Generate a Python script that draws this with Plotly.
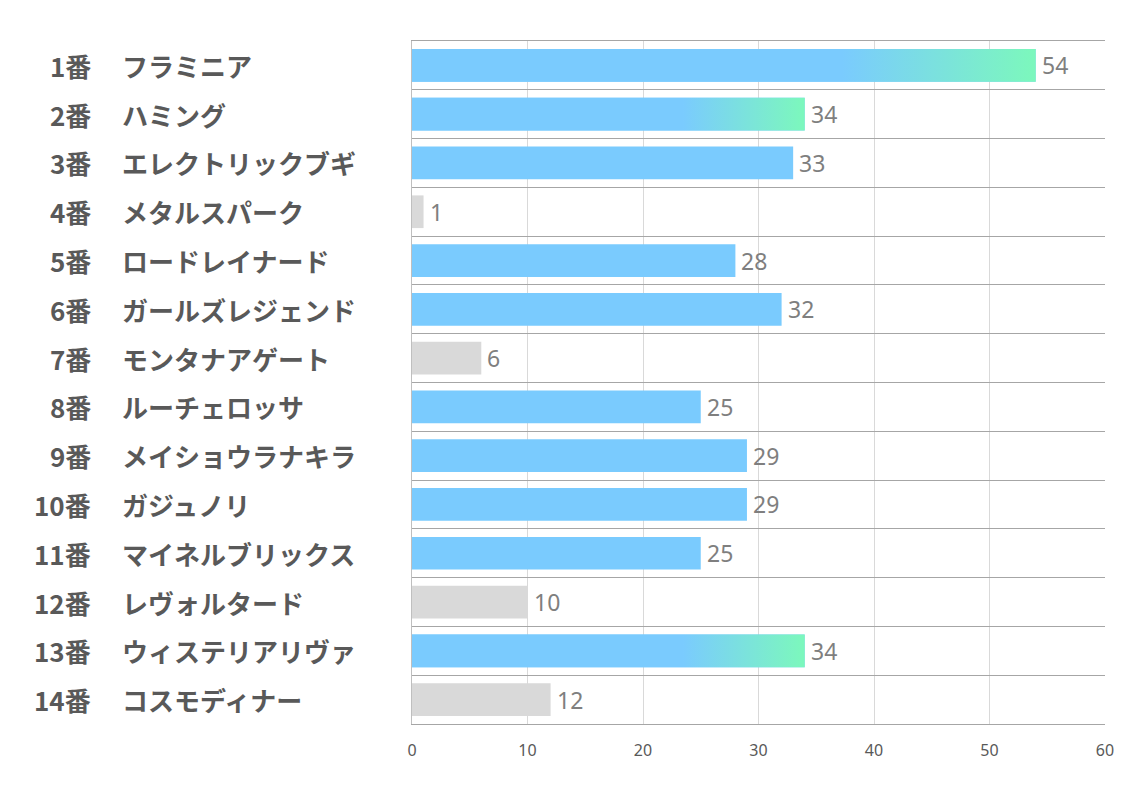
import plotly.graph_objects as go

NUMBERS = ["1番", "2番", "3番", "4番", "5番", "6番", "7番",
           "8番", "9番", "10番", "11番", "12番", "13番", "14番"]
NAMES = ["フラミニア", "ハミング", "エレクトリックブギ", "メタルスパーク",
         "ロードレイナード", "ガールズレジェンド", "モンタナアゲート",
         "ルーチェロッサ", "メイショウラナキラ", "ガジュノリ",
         "マイネルブリックス", "レヴォルタード", "ウィステリアリヴァ", "コスモディナー"]
VALUES = [54, 34, 33, 1, 28, 32, 6, 25, 29, 29, 25, 10, 34, 12]
STYLES = ["grad", "grad", "blue", "gray", "blue", "blue", "gray",
          "blue", "blue", "blue", "blue", "gray", "grad", "gray"]
X_TICKS = [0, 10, 20, 30, 40, 50, 60]

BLUE = "#7ACBFE"
GREEN = "#7CF8BC"
GRAY = "#D9D9D9"
BAR_W = 0.67

JP_FONT = "Noto Sans CJK JP"
pos = list(range(len(VALUES)))
colors = [GRAY if s == "gray" else BLUE for s in STYLES]

fig = go.Figure()
fig.add_trace(go.Bar(
    x=VALUES, y=pos, orientation="h", width=BAR_W,
    marker=dict(color=colors, line=dict(width=0)),
    showlegend=False,
))

# gradient overlay for the highlighted horses
for p, v, s in zip(pos, VALUES, STYLES):
    if s != "grad":
        continue
    h = BAR_W / 2
    fig.add_trace(go.Scatter(
        x=[0, v, v, 0, 0], y=[p - h, p - h, p + h, p + h, p - h],
        mode="lines", fill="toself", line=dict(width=0),
        fillgradient=dict(type="horizontal",
                          colorscale=[[0, BLUE], [0.69, BLUE], [1, GREEN]]),
        hoverinfo="skip", showlegend=False,
    ))

# value labels
for p, v in zip(pos, VALUES):
    fig.add_annotation(x=v, y=p, xref="x", yref="y", text=str(v),
                       xanchor="left", xshift=4, showarrow=False,
                       font=dict(family="Noto Sans", size=23, color="#7F7F7F"))

for p, num, name in zip(pos, NUMBERS, NAMES):
    fig.add_annotation(x=0, y=p, xref="x domain", yref="y", text=num,
                       xanchor="right", xshift=-319, showarrow=False,
                       font=dict(family=JP_FONT, size=26, color="#595959", weight="bold"))
    fig.add_annotation(x=0, y=p, xref="x domain", yref="y", text=name,
                       xanchor="left", xshift=-292, showarrow=False,
                       font=dict(family=JP_FONT, size=26, color="#595959", weight="bold"))

fig.update_layout(
    width=1134, height=793,
    margin=dict(l=404, r=37, t=33, b=77),
    plot_bgcolor="white", paper_bgcolor="white",
)
fig.update_xaxes(
    range=[0, 60], tickvals=X_TICKS, showgrid=True, gridcolor="#D9D9D9", gridwidth=1,
    zeroline=False, showline=True, mirror=True, linecolor="#A6A6A6", linewidth=1,
    tickfont=dict(family="Noto Sans", size=16, color="#595959"),
    ticks="", ticklabelstandoff=12,
)
fig.update_yaxes(
    range=[len(VALUES) - 0.5, -0.5],
    tickvals=[p + 0.5 for p in range(-1, len(VALUES))],
    showticklabels=False, showgrid=True, gridcolor="#A6A6A6", gridwidth=1,
    zeroline=False, showline=True, linecolor="#BFBFBF", linewidth=1, ticks="",
)

fig.write_html("out.html")
